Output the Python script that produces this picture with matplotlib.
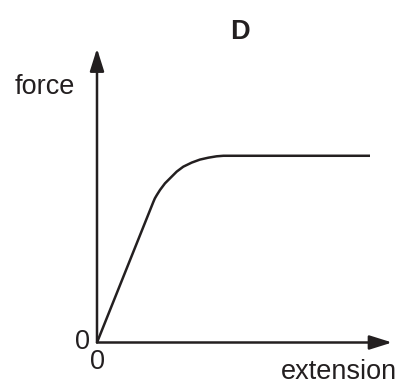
import numpy as np
import matplotlib
matplotlib.use("Agg")
import matplotlib.pyplot as plt

plt.rcParams['font.family'] = ['Liberation Sans', 'DejaVu Sans']

# force-extension curve D (arbitrary units)
extension = [0.0, 2.06, 2.12, 2.19, 2.31, 2.49, 2.67, 2.92, 3.16, 3.47,
             3.77, 4.08, 4.38, 4.63, 10.0]
force = [0.0, 5.14, 5.28, 5.40, 5.59, 5.83, 6.01, 6.26, 6.44, 6.59,
         6.70, 6.77, 6.82, 6.84, 6.84]

title = "D"
x_label = "extension"
y_label = "force"
x_arrow_end = 10.81
y_arrow_end = 10.77

W, H = 401, 385
fig = plt.figure(figsize=(W / 100, H / 100), dpi=100)
ax = fig.add_axes([0, 0, 1, 1])

# pixel scale: 27.3 px per unit, origin at (97, 342.5) px
s = 27.3
ox, oy = 97, 342.5
ax.set_xlim(-ox / s, (W - ox) / s)
ax.set_ylim(-(H - oy) / s, oy / s)
ax.axis('off')

lw = 1.8
arrow = dict(arrowstyle='-|>,head_length=1.37,head_width=0.43',
             mutation_scale=10, lw=lw, color='#231f20',
             shrinkA=0, shrinkB=0)
ax.annotate('', xy=(x_arrow_end, 0), xytext=(0, 0), arrowprops=arrow)
ax.annotate('', xy=(0, y_arrow_end), xytext=(0, 0), arrowprops=arrow)

ax.plot(extension, force, color='#231f20', lw=lw, solid_capstyle='butt',
        solid_joinstyle='round')

fs = 19.5
fig.text(240 / W, 1 - 32 / H, title, fontsize=fs, fontweight='bold',
         ha='center', va='center', color='#231f20')
fig.text(45 / W, 1 - 87 / H, y_label, fontsize=fs, ha='center',
         va='center', color='#231f20')
fig.text(397 / W, 1 - 372 / H, x_label, fontsize=fs, ha='right',
         va='center', color='#231f20')
fig.text(82.5 / W, 1 - 342 / H, "0", fontsize=fs, ha='center',
         va='center', color='#231f20')
fig.text(97.3 / W, 1 - 362 / H, "0", fontsize=fs, ha='center',
         va='center', color='#231f20')

fig.savefig("out.png", dpi=100)
